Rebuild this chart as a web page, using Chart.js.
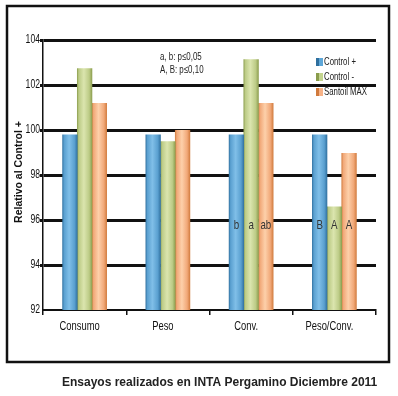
<!DOCTYPE html>
<html>
<head>
<meta charset="utf-8">
<script src="https://cdn.jsdelivr.net/npm/chart.js@4"></script>
<style>
  html, body { margin: 0; padding: 0; background: #fff; }
  #wrap { width: 398px; height: 396px; position: relative; }
</style>
</head>
<body>
<div id="wrap"><canvas id="chart" width="398" height="396"></canvas></div>
<script>
const categories = ['Consumo', 'Peso', 'Conv.', 'Peso/Conv.'];
const seriesNames = ['Control +', 'Control -', 'Santoil MAX'];
const controlPlus = [99.8, 99.8, 99.8, 99.8];
const controlMinus = [102.75, 99.5, 103.15, 96.6];
const santoilMax = [101.2, 100.0, 101.2, 98.98];
const yTicks = [92, 94, 96, 98, 100, 102, 104];
// letras de significancia por serie y categoría
const letters = [
  ['', '', 'b', 'B'],
  ['', '', 'a', 'A'],
  ['', '', 'ab', 'A']
];
const notes = ['a, b: p\u22640,05', 'A, B: p\u22640,10'];
const footer = 'Ensayos realizados en INTA Pergamino Diciembre 2011';

const SHADES = [
  ['#2f6f9e', '#80bfe8', '#5aa0d0'],
  ['#8a9c4c', '#dbe5ae', '#bccb86'],
  ['#d07a3c', '#fdd0aa', '#f1a878']
];
const BASE = ['#5ea7d8', '#c3d48e', '#f7b287'];

const SANS = "'Liberation Sans', Arial, sans-serif";

// texto angosto (imitando Arial Narrow)
function narrow(ctx, text, x, y, align, size, sx) {
  ctx.save();
  ctx.translate(x, y);
  ctx.scale(sx, 1);
  ctx.font = size + 'px ' + SANS;
  ctx.textAlign = align;
  ctx.textBaseline = 'middle';
  ctx.fillText(text, 0, 0);
  ctx.restore();
}

const decorPlugin = {
  id: 'decor',
  beforeDatasetsDraw(chart) {
    const ctx = chart.ctx;
    chart.data.datasets.forEach((ds, di) => {
      chart.getDatasetMeta(di).data.forEach(bar => {
        const l = bar.x - bar.width / 2, r = bar.x + bar.width / 2;
        const g = ctx.createLinearGradient(l, 0, r, 0);
        g.addColorStop(0, SHADES[di][0]);
        g.addColorStop(0.12, SHADES[di][2]);
        g.addColorStop(0.45, SHADES[di][1]);
        g.addColorStop(0.8, SHADES[di][2]);
        g.addColorStop(1, SHADES[di][0]);
        bar.options = Object.assign({}, bar.options, { backgroundColor: g });
      });
    });
  },
  afterDraw(chart) {
    const ctx = chart.ctx;
    const xs = chart.scales.x, ys = chart.scales.y;
    ctx.save();
    // marco exterior
    ctx.strokeStyle = '#111';
    ctx.lineWidth = 2.5;
    ctx.strokeRect(7, 6, 382, 356);

    // etiquetas de los ejes
    ctx.fillStyle = '#111';
    ys.ticks.forEach((t, i) => narrow(ctx, String(t.value), 40, ys.getPixelForTick(i), 'right', 12, 0.72));
    categories.forEach((c, i) => narrow(ctx, c, xs.getPixelForTick(i) - 5, 327, 'center', 12.5, 0.75));

    // título del eje Y
    ctx.save();
    ctx.translate(19, 172);
    ctx.rotate(-Math.PI / 2);
    ctx.font = 'bold 10.5px ' + SANS;
    ctx.textAlign = 'center';
    ctx.textBaseline = 'middle';
    ctx.fillText('Relativo al Control +', 0, 0);
    ctx.restore();

    // notas
    ctx.fillStyle = '#222';
    narrow(ctx, notes[0], 160, 57, 'left', 11, 0.72);
    narrow(ctx, notes[1], 160, 70, 'left', 11, 0.72);

    // leyenda
    chart.data.datasets.forEach((ds, i) => {
      const y = 62 + i * 15;
      ctx.fillStyle = SHADES[i][0];
      ctx.fillRect(316, y - 4, 3, 8);
      ctx.fillStyle = BASE[i];
      ctx.fillRect(319, y - 4, 4, 8);
      ctx.fillStyle = '#222';
      narrow(ctx, ds.label, 324, y, 'left', 11.5, 0.68);
    });

    // letras de significancia
    ctx.fillStyle = '#333';
    const yL = ys.getPixelForValue(95.75);
    chart.data.datasets.forEach((ds, di) => {
      chart.getDatasetMeta(di).data.forEach((bar, ci) => {
        if (letters[di][ci]) narrow(ctx, letters[di][ci], bar.x, yL, 'center', 13, 0.75);
      });
    });

    // pie
    ctx.fillStyle = '#222';
    ctx.font = 'bold 12px ' + SANS;
    ctx.textAlign = 'left';
    ctx.textBaseline = 'middle';
    ctx.fillText(footer, 62, 383);
    ctx.restore();
  }
};

new Chart(document.getElementById('chart'), {
  type: 'bar',
  data: {
    labels: categories,
    datasets: [
      { label: seriesNames[0], data: controlPlus, backgroundColor: BASE[0] },
      { label: seriesNames[1], data: controlMinus, backgroundColor: BASE[1] },
      { label: seriesNames[2], data: santoilMax, backgroundColor: BASE[2] }
    ]
  },
  options: {
    responsive: false,
    animation: false,
    layout: { padding: { left: 0, right: 22, top: 40, bottom: 56 } },
    datasets: { bar: { categoryPercentage: 0.53, barPercentage: 1.04, borderWidth: 0 } },
    plugins: { legend: { display: false }, tooltip: { enabled: false } },
    scales: {
      x: {
        afterFit: s => { s.height = 30; },
        grid: { drawOnChartArea: false, tickLength: 5, color: '#111', lineWidth: 1.5, offset: true },
        border: { display: true, color: '#111', width: 2 },
        ticks: { color: 'rgba(0,0,0,0)', font: { size: 11 }, padding: 6 }
      },
      y: {
        min: 92,
        max: 104,
        afterFit: s => { s.width = 43; },
        afterBuildTicks: s => { s.ticks = yTicks.map(v => ({ value: v })); },
        grid: {
          color: '#111',
          lineWidth: c => (c.tick && c.tick.value === 92 ? 0 : 3),
          tickLength: 3
        },
        border: { display: true, color: '#111', width: 1.5 },
        ticks: { color: 'rgba(0,0,0,0)', font: { size: 11 }, padding: 3 }
      }
    }
  },
  plugins: [decorPlugin]
});
</script>
</body>
</html>
